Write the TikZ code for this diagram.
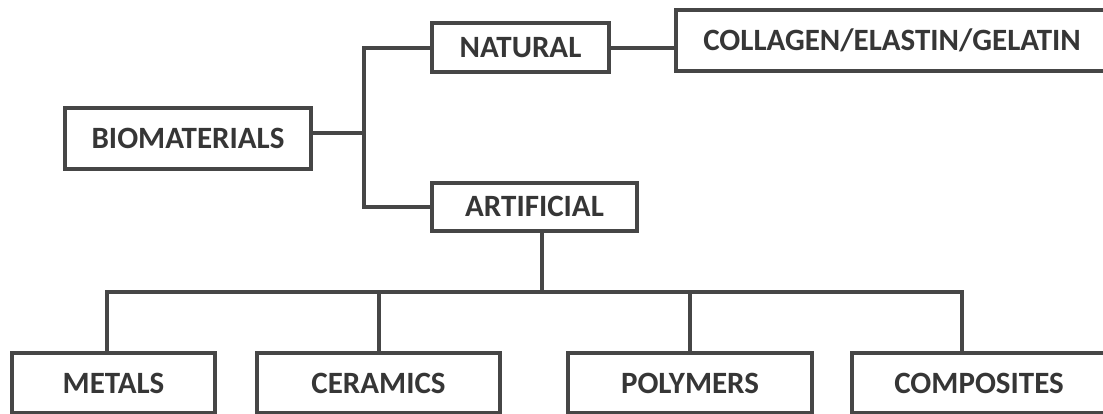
\documentclass[tikz,border=0pt]{standalone}
\usepackage{fontspec}
\setmainfont{Carlito}
\definecolor{boxline}{HTML}{464646}
\definecolor{boxtext}{HTML}{363636}
\tikzset{
  catbox/.style={draw=boxline, line width=4pt, fill=white, rectangle, inner sep=0pt,
    text=boxtext, font=\fontsize{31}{31}\selectfont\bfseries},
  link/.style={draw=boxline, line width=4pt}
}
\begin{document}
\begin{tikzpicture}[x=1pt,y=-1pt]
\useasboundingbox (0,0) rectangle (1103,413);
\clip (0,0) rectangle (1103,413);
\fill[white] (0,0) rectangle (1103,413);
% nodes
\node[catbox, minimum width=246pt, minimum height=61pt] (bio) at (188,138.5) {BIOMATERIALS};
\node[catbox, minimum width=177pt, minimum height=49pt] (nat) at (520.5,47.5) {NATURAL};
\node[catbox, minimum width=205pt, minimum height=48pt] (art) at (534.5,206.5) {ARTIFICIAL};
\node[catbox, minimum width=432pt, minimum height=61pt] (col) at (892,40.5) {COLLAGEN/ELASTIN/GELATIN};
\node[catbox, minimum width=203pt, minimum height=60pt] (met) at (113.5,383) {METALS};
\node[catbox, minimum width=243pt, minimum height=60pt] (cer) at (378.5,383) {CERAMICS};
\node[catbox, minimum width=244pt, minimum height=60pt] (pol) at (690,383) {POLYMERS};
\node[catbox, minimum width=254pt, minimum height=60pt] (com) at (979,383) {COMPOSITES};
% junction coordinates
\coordinate (j1) at (364,133);
\coordinate (bus) at (542,292);
\coordinate (bl) at (107,292);
\coordinate (br) at (962,292);
% connectors
\draw[link] (bio.east |- j1) -- (j1);
\draw[link] (nat.west) -| (j1) |- (art.west);
\draw[link] (nat.east) -- (col.west |- nat.east);
\draw[link] (bus |- art.south) -- (bus);
\draw[link] (bl |- met.north) |- (br) -- (br |- com.north);
\draw[link] (cer.north) -- (cer.north |- bus);
\draw[link] (pol.north) -- (pol.north |- bus);
\end{tikzpicture}
\end{document}
